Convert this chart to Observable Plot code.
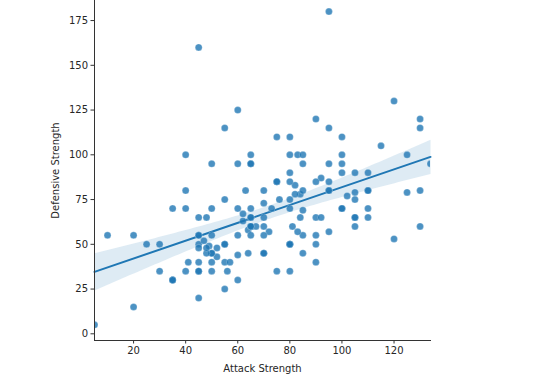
<!DOCTYPE html>
<html>
<head>
<meta charset="utf-8">
<script src="https://cdn.jsdelivr.net/npm/d3@7"></script>
<script src="https://cdn.jsdelivr.net/npm/@observablehq/plot@0.6"></script>
<style>
  html, body { margin: 0; padding: 0; background: #fff; }
  #chart svg { font-family: "DejaVu Sans", sans-serif; }
</style>
</head>
<body>
<div id="chart"></div>
<script>
const names = ["Bulbasaur","Ivysaur","Venusaur","Charmander","Charmeleon","Charizard","Squirtle","Wartortle","Blastoise","Caterpie","Metapod","Butterfree","Weedle","Kakuna","Beedrill","Pidgey","Pidgeotto","Pidgeot","Rattata","Raticate","Spearow","Fearow","Ekans","Arbok","Pikachu","Raichu","Sandshrew","Sandslash","Nidoran F","Nidorina","Nidoqueen","Nidoran M","Nidorino","Nidoking","Clefairy","Clefable","Vulpix","Ninetales","Jigglypuff","Wigglytuff","Zubat","Golbat","Oddish","Gloom","Vileplume","Paras","Parasect","Venonat","Venomoth","Diglett","Dugtrio","Meowth","Persian","Psyduck","Golduck","Mankey","Primeape","Growlithe","Arcanine","Poliwag","Poliwhirl","Poliwrath","Abra","Kadabra","Alakazam","Machop","Machoke","Machamp","Bellsprout","Weepinbell","Victreebel","Tentacool","Tentacruel","Geodude","Graveler","Golem","Ponyta","Rapidash","Slowpoke","Slowbro","Magnemite","Magneton","Farfetch'd","Doduo","Dodrio","Seel","Dewgong","Grimer","Muk","Shellder","Cloyster","Gastly","Haunter","Gengar","Onix","Drowzee","Hypno","Krabby","Kingler","Voltorb","Electrode","Exeggcute","Exeggutor","Cubone","Marowak","Hitmonlee","Hitmonchan","Lickitung","Koffing","Weezing","Rhyhorn","Rhydon","Chansey","Tangela","Kangaskhan","Horsea","Seadra","Goldeen","Seaking","Staryu","Starmie","Mr. Mime","Scyther","Jynx","Electabuzz","Magmar","Pinsir","Tauros","Magikarp","Gyarados","Lapras","Ditto","Eevee","Vaporeon","Jolteon","Flareon","Porygon","Omanyte","Omastar","Kabuto","Kabutops","Aerodactyl","Snorlax","Articuno","Zapdos","Moltres","Dratini","Dragonair","Dragonite","Mewtwo","Mew"];
const attack = [49,62,82,52,64,84,48,63,83,30,20,45,35,25,90,45,60,80,56,81,60,90,60,85,55,90,75,100,47,62,92,57,72,102,45,70,41,76,45,70,45,80,50,65,80,70,95,55,65,55,80,45,70,52,82,80,105,70,110,50,65,95,20,35,50,80,100,130,75,90,105,40,70,80,95,120,85,100,65,75,35,60,65,85,110,45,70,80,105,65,95,35,50,65,45,48,73,105,130,30,50,40,95,50,80,120,105,55,65,90,85,130,5,55,95,40,65,67,92,45,75,45,110,50,83,95,125,100,10,125,85,48,55,65,65,130,60,40,60,80,115,105,110,85,90,100,64,84,134,110,100];
const defense = [49,63,83,43,58,78,65,80,100,35,55,50,30,50,40,40,55,75,35,60,30,65,44,69,40,55,85,110,52,67,87,40,57,77,48,73,40,75,20,45,35,70,55,70,85,55,80,50,60,25,50,35,60,48,78,35,60,45,80,40,65,95,15,30,45,50,70,80,35,50,65,35,65,100,115,130,55,70,65,110,70,95,55,45,70,55,80,50,75,100,180,30,45,60,160,45,70,90,115,50,70,80,85,95,110,53,79,75,95,120,95,120,5,115,80,70,95,60,65,55,85,65,80,35,57,57,100,95,55,79,80,48,50,60,60,60,70,100,125,90,105,65,65,100,85,90,45,65,95,90,100];
const xTicks = [20, 40, 60, 80, 100, 120];
const yTicks = [0, 25, 50, 75, 100, 125, 150, 175];

const data = names.map((name, i) => ({name, attack: attack[i], defense: defense[i]}));
const blue = "#1f77b4";

const chart = Plot.plot({
  width: 534,
  height: 385,
  marginLeft: 94,
  marginRight: 104,
  marginTop: 0,
  marginBottom: 45,
  style: {fontFamily: "DejaVu Sans, sans-serif", fontSize: "10px", color: "#262626", background: "#fff"},
  x: {domain: [5, 134]},
  y: {domain: [-3.74, 186.2]},
  marks: [
    Plot.linearRegressionY(data, {x: "attack", y: "defense", ci: 0.95, stroke: blue, strokeWidth: 2, fill: blue, fillOpacity: 0.15}),
    Plot.dot(data, {x: "attack", y: "defense", r: 3.5, fill: blue, fillOpacity: 0.8, stroke: "#fff", strokeWidth: 0.4, strokeOpacity: 0.6, clip: true}),
    Plot.frame({anchor: "left", stroke: "#333", strokeWidth: 1}),
    Plot.frame({anchor: "bottom", stroke: "#333", strokeWidth: 1}),
    Plot.axisX({ticks: xTicks, tickSize: 3.5, tickPadding: 3, fontSize: 10, stroke: "#333", label: "Attack Strength", labelAnchor: "center", labelOffset: 31, labelArrow: "none"}),
    Plot.axisY({ticks: yTicks, tickSize: 3.5, tickPadding: 3, fontSize: 10, stroke: "#333", label: "Defensive Strength", labelAnchor: "center", labelOffset: 43, labelArrow: "none"})
  ]
});
document.getElementById("chart").appendChild(chart);
</script>
</body>
</html>
